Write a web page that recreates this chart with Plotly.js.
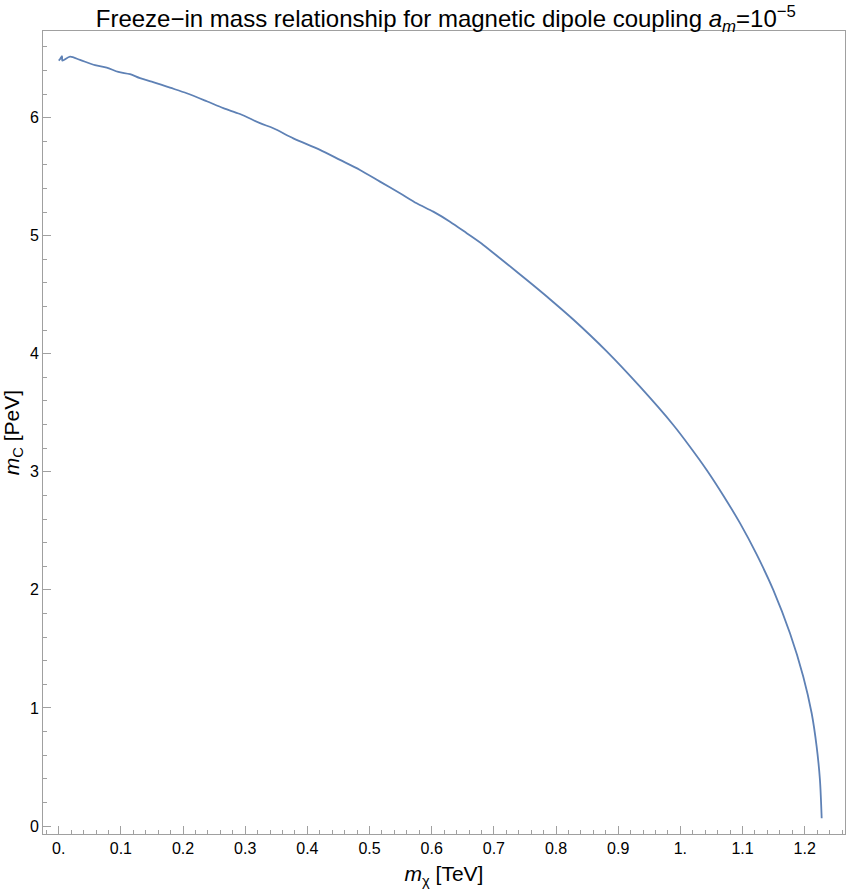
<!DOCTYPE html>
<html>
<head>
<meta charset="utf-8">
<script src="https://cdn.plot.ly/plotly-3.0.1.min.js"></script>
<style>html,body{margin:0;padding:0;background:#fff;}#chart{width:846px;height:895px;}</style>
</head>
<body>
<div id="chart"></div>
<script>
// m_chi [TeV]
var mChi = [0.0, 0.002, 0.0053, 0.0058, 0.0182, 0.0343, 0.0584, 0.0772, 0.0959, 0.1147, 0.1308, 0.1496,
  0.179, 0.2059, 0.2381, 0.2648, 0.2916, 0.3238, 0.3452, 0.3774, 0.4203, 0.4525, 0.4846, 0.5168, 0.549,
  0.5758, 0.6025, 0.6294, 0.6563, 0.683, 0.7098, 0.7367, 0.7634, 0.7902, 0.8277, 0.8815, 0.935, 0.9886,
  1.0154, 1.0423, 1.069, 1.0959, 1.1227, 1.1494, 1.1763, 1.1977, 1.2112, 1.2192, 1.2245, 1.2273];
// m_C [PeV]
var mC = [6.483, 6.495, 6.52, 6.483, 6.517, 6.489, 6.444, 6.424, 6.387, 6.368, 6.334, 6.305,
  6.254, 6.207, 6.139, 6.08, 6.031, 5.953, 5.91, 5.825, 5.727, 5.642, 5.557, 5.458, 5.36,
  5.275, 5.204, 5.119, 5.021, 4.922, 4.809, 4.695, 4.58, 4.462, 4.29, 4.02, 3.721, 3.397,
  3.213, 3.016, 2.80, 2.565, 2.30, 2.0, 1.632, 1.265, 0.955, 0.672, 0.39, 0.065];

var xTickVals = [0, 0.1, 0.2, 0.3, 0.4, 0.5, 0.6, 0.7, 0.8, 0.9, 1.0, 1.1, 1.2];
var xTickText = ["0.", "0.1", "0.2", "0.3", "0.4", "0.5", "0.6", "0.7", "0.8", "0.9", "1.", "1.1", "1.2"];
var yTickVals = [0, 1, 2, 3, 4, 5, 6];
var yTickText = ["0", "1", "2", "3", "4", "5", "6"];

var font = "Liberation Sans, Arial, sans-serif";
var frameColor = "#a0a0a0";

var trace = {
  x: mChi, y: mC, type: "scatter", mode: "lines",
  line: {color: "#5E81B5", width: 1.8, shape: "spline", smoothing: 0.8},
  hoverinfo: "skip"
};

var layout = {
  width: 846, height: 895,
  margin: {l: 43, r: 1, t: 31, b: 61},
  paper_bgcolor: "#fff", plot_bgcolor: "#fff",
  showlegend: false,
  title: {
    text: "Freeze\u2212in mass relationship for magnetic dipole coupling <i>a</i><sub><i>m</i></sub>=10<sup>\u22125</sup>",
    font: {family: font, size: 24, color: "#000"},
    x: 0.527, xanchor: "center", y: 0.979, yanchor: "middle"
  },
  xaxis: {
    range: [-0.0253, 1.2648],
    tickmode: "array", tickvals: xTickVals, ticktext: xTickText,
    ticks: "inside", ticklen: 8, tickwidth: 1, tickcolor: frameColor,
    minor: {dtick: 0.02, tick0: 0, ticks: "inside", ticklen: 4, tickwidth: 1, tickcolor: frameColor, showgrid: false},
    showline: true, linecolor: frameColor, linewidth: 1, mirror: true,
    showgrid: false, zeroline: false,
    tickfont: {family: font, size: 16, color: "#000"},
    title: {text: "<i>m</i><sub>\u03c7</sub> [TeV]", font: {family: font, size: 21, color: "#000"}, standoff: 10}
  },
  yaxis: {
    range: [-0.0678, 6.734],
    tickmode: "array", tickvals: yTickVals, ticktext: yTickText,
    ticks: "inside", ticklen: 8, tickwidth: 1, tickcolor: frameColor,
    minor: {dtick: 0.2, tick0: 0, ticks: "inside", ticklen: 4, tickwidth: 1, tickcolor: frameColor, showgrid: false},
    showline: true, linecolor: frameColor, linewidth: 1, mirror: true,
    showgrid: false, zeroline: false,
    tickfont: {family: font, size: 16, color: "#000"},
    title: {text: "<i>m</i><sub>C</sub> [PeV]", font: {family: font, size: 21, color: "#000"}, standoff: 4}
  }
};

Plotly.newPlot("chart", [trace], layout, {displayModeBar: false, staticPlot: true});
</script>
</body>
</html>
